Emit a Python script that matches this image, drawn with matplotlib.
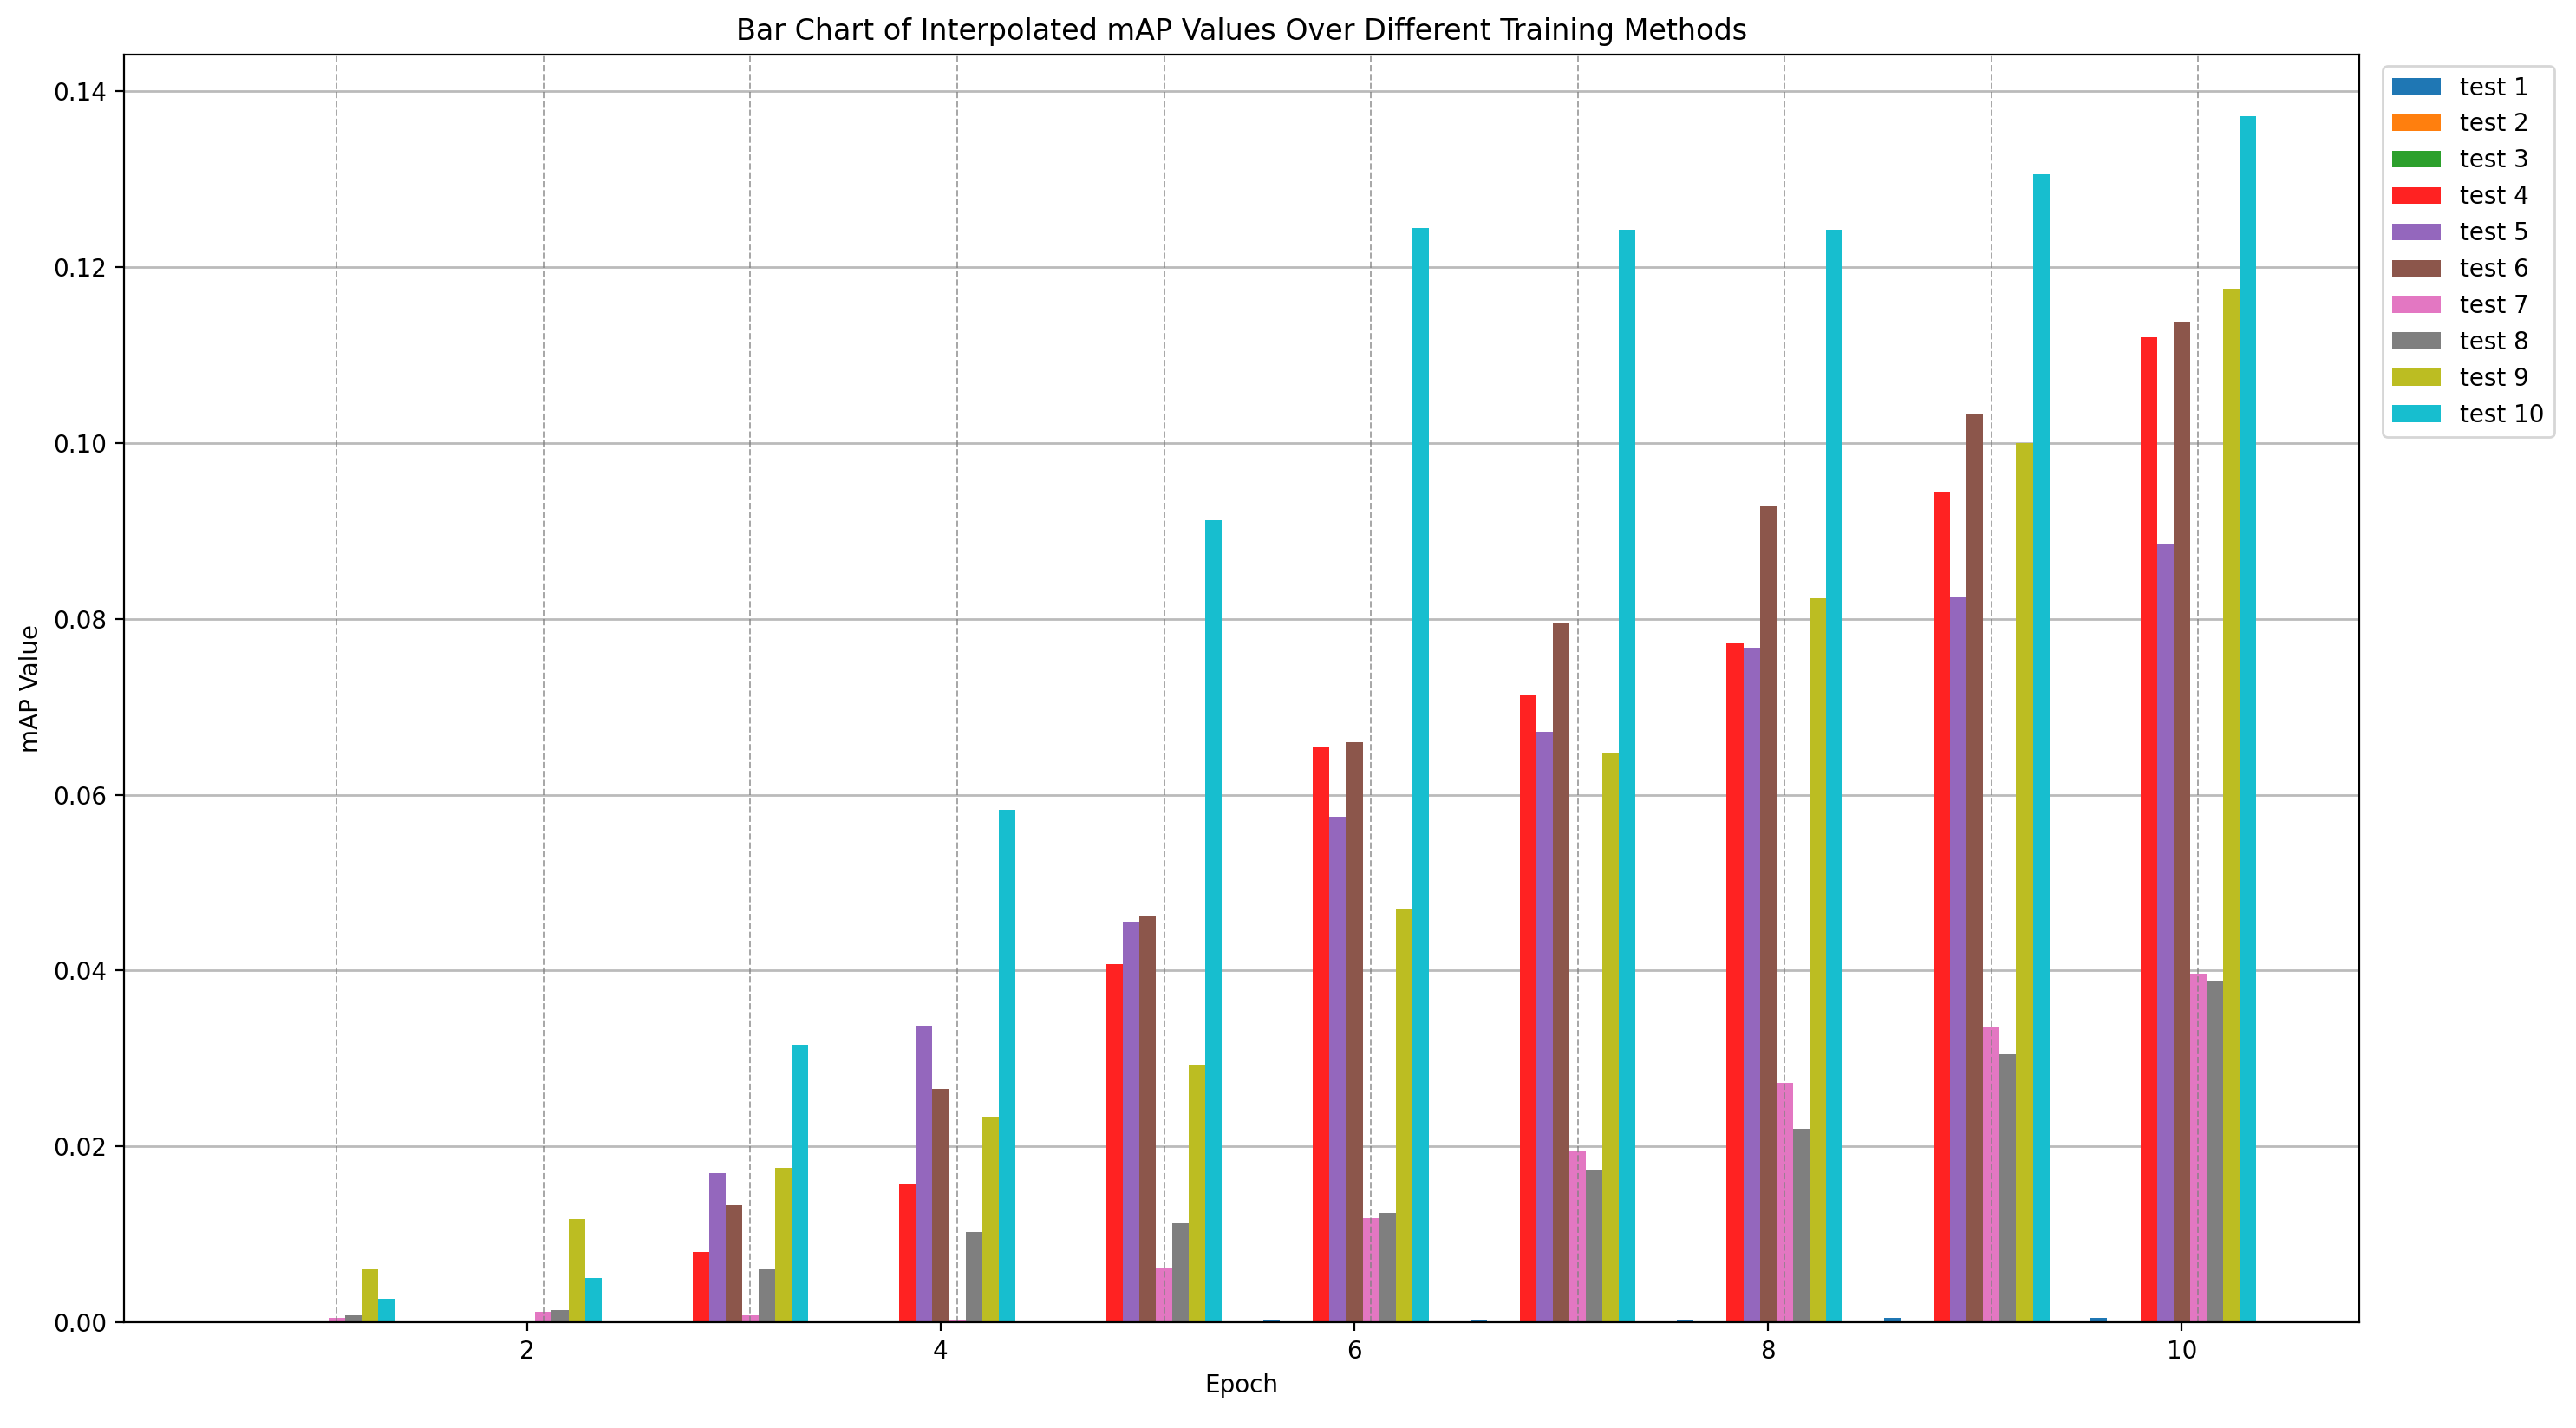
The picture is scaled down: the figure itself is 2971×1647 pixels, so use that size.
import numpy as np
import matplotlib.pyplot as plt

epochs = np.arange(1, 11)
labels = ["test %d" % i for i in range(1, 11)]
colors = ["#1f77b4", "#ff7f0e", "#2ca02c", "#ff2222", "#9467bd",
          "#8c564b", "#e377c2", "#7f7f7f", "#bcbd22", "#17becf"]

test1 = [0, 0, 0, 0, 0, 0.0003, 0.0003, 0.0003, 0.0005, 0.0005]
test2 = [0] * 10
test3 = [0] * 10
test4 = [0, 0, 0.008, 0.0157, 0.0407, 0.0655, 0.0713, 0.0772, 0.0945, 0.112]
test5 = [0, 0, 0.017, 0.0337, 0.0456, 0.0575, 0.0672, 0.0767, 0.0825, 0.0886]
test6 = [0, 0, 0.0133, 0.0265, 0.0463, 0.066, 0.0795, 0.0928, 0.1033, 0.1138]
test7 = [0.0005, 0.0012, 0.0008, 0.0003, 0.0062, 0.0118, 0.0195, 0.0272, 0.0335, 0.0396]
test8 = [0.0008, 0.0014, 0.006, 0.0103, 0.0113, 0.0124, 0.0174, 0.022, 0.0305, 0.0389]
test9 = [0.006, 0.0117, 0.0176, 0.0234, 0.0293, 0.047, 0.0648, 0.0823, 0.1, 0.1175]
test10 = [0.0027, 0.005, 0.0316, 0.0583, 0.0912, 0.1244, 0.1242, 0.1242, 0.1306, 0.1372]
series = [test1, test2, test3, test4, test5, test6, test7, test8, test9, test10]

width = 0.08
fig = plt.figure(figsize=(14.855, 8.235), dpi=200)
ax = fig.add_axes([0.048, 0.074, 0.868, 0.888])

for i, vals in enumerate(series):
    ax.bar(epochs - 0.4 + i * width, vals, width, color=colors[i], label=labels[i])

for e in epochs:
    ax.axvline(e + 0.08, color="gray", linestyle="--", linewidth=0.7, alpha=0.7)
ax.yaxis.grid(True, color="#bbbbbb", linewidth=1)
ax.set_axisbelow(True)

ax.set_xlim(0.05, 10.86)
ax.set_ylim(0, 0.1442)
ax.set_xticks([2, 4, 6, 8, 10])
ax.set_xlabel("Epoch")
ax.set_ylabel("mAP Value")
ax.set_title("Bar Chart of Interpolated mAP Values Over Different Training Methods")
ax.legend(loc="upper left", bbox_to_anchor=(1.005, 1.0))

plt.savefig("out.png", dpi=200)
